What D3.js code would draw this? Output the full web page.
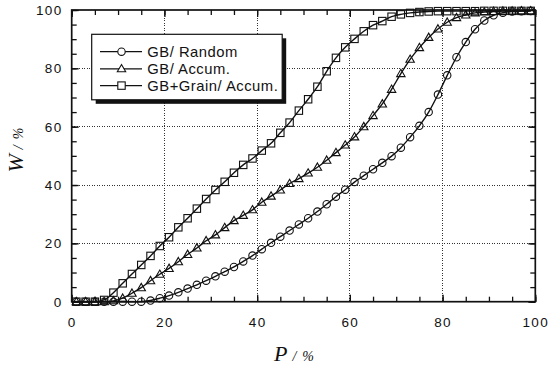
<!DOCTYPE html>
<html>
<head>
<meta charset="utf-8">
<script src="https://cdn.jsdelivr.net/npm/d3@7"></script>
<style>
  html, body { margin: 0; padding: 0; background: #fff; }
  svg { display: block; }
</style>
</head>
<body>
<svg id="chart" width="551" height="367"></svg>
<script>
// ---- data ----
const P = [1,3,5,7,9,11,13,15,17,19,21,23,25,27,29,31,33,35,37,39,41,43,45,47,49,
           51,53,55,57,59,61,63,65,67,69,71,73,75,77,79,81,83,85,87,89,91,93,95,97,99];
const gbRandom = [0,0,0,0,0,0,0,0,0.4,1.2,2.1,3.2,4.5,5.8,7.2,8.7,10.3,11.9,13.8,15.8,
                  18.0,20.2,22.3,24.4,26.5,28.6,30.9,33.4,36.0,38.4,41.0,43.2,45.4,47.6,49.9,
                  52.8,56.4,60.3,65.0,71.0,77.6,83.8,89.0,93.4,96.4,98.2,99.1,99.5,99.6,99.7];
const gbAccum = [0,0,0,0,0.3,1.2,2.9,4.8,7.2,9.4,11.4,13.7,16.2,18.4,20.9,22.9,25.4,27.8,29.6,31.5,
                 34.1,36.2,38.3,40.5,42.2,44.1,46.1,48.5,51.1,53.7,56.5,60.0,63.8,67.8,72.8,
                 78.2,83.1,87.1,90.6,93.5,95.8,97.4,98.3,99.0,99.3,99.5,99.6,99.6,99.7,99.7];
const gbGrainAccum = [0,0,0,0.6,3.1,6.3,9.5,12.6,15.7,19.1,22.1,25.5,28.6,31.9,35.2,38.3,41.1,44.2,46.9,49.1,
                      51.8,54.3,57.9,61.4,65.5,69.4,73.7,79.0,83.6,87.2,90.1,92.7,94.8,96.2,97.7,
                      98.5,99.0,99.3,99.5,99.6,99.6,99.6,99.6,99.6,99.7,99.7,99.7,99.7,99.7,99.7];
const seriesNames = ["GB/ Random", "GB/ Accum.", "GB+Grain/ Accum."];
const seriesMarkers = ["circle", "triangle", "square"];
const xTicks = [0,20,40,60,80,100];
const yTicks = [0,20,40,60,80,100];
const minorTicks = [0,5,10,15,20,25,30,35,40,45,50,55,60,65,70,75,80,85,90,95,100];
const gridVals = [20,40,60,80];

const series = [
  {name: seriesNames[0], marker: seriesMarkers[0], values: gbRandom},
  {name: seriesNames[1], marker: seriesMarkers[1], values: gbAccum},
  {name: seriesNames[2], marker: seriesMarkers[2], values: gbGrainAccum}
];

// ---- layout ----
const L = 71.7, R = 535.3, T = 10, B = 301.7;
const x = d3.scaleLinear().domain([0,100]).range([L,R]);
const y = d3.scaleLinear().domain([0,100]).range([B,T]);
const svg = d3.select("#chart");
const INK = "#111";

// grid
const grid = svg.append("g").attr("stroke", "#333").attr("stroke-width", 1)
  .attr("stroke-dasharray", "1,1.5").attr("shape-rendering", "crispEdges");
grid.selectAll("line.v").data(gridVals).join("line")
  .attr("x1", d => x(d)).attr("x2", d => x(d)).attr("y1", T).attr("y2", B);
grid.selectAll("line.h").data(gridVals).join("line")
  .attr("y1", d => y(d)).attr("y2", d => y(d)).attr("x1", L).attr("x2", R);

// axes
const fontTick = "'Liberation Sans', Arial, Helvetica, sans-serif";
function styleAxis(g) {
  g.select(".domain").remove();
  g.selectAll(".tick line").attr("stroke", INK).attr("stroke-width", 1.3);
  g.selectAll("text").attr("font-family", fontTick).attr("font-size", 13.5)
    .attr("letter-spacing", "1.4px").attr("fill", INK);
}
svg.append("g").attr("transform", `translate(0,${B})`)
  .call(d3.axisBottom(x).tickValues(xTicks).tickSize(-7).tickPadding(16).tickFormat(d3.format("d")))
  .call(styleAxis);
svg.append("g").attr("transform", `translate(${L},0)`)
  .call(d3.axisLeft(y).tickValues(yTicks).tickSize(-7).tickPadding(9).tickFormat(d3.format("d")))
  .call(styleAxis);
svg.append("g").attr("transform", `translate(0,${B})`)
  .call(d3.axisBottom(x).tickValues(minorTicks).tickSize(-5).tickFormat(""))
  .call(styleAxis);
svg.append("g").attr("transform", `translate(0,${T})`)
  .call(d3.axisTop(x).tickValues(minorTicks).tickSize(-5).tickFormat(""))
  .call(styleAxis);
svg.append("g").attr("transform", `translate(0,${T})`)
  .call(d3.axisTop(x).tickValues(xTicks).tickSize(-7).tickFormat(""))
  .call(styleAxis);
svg.append("g").attr("transform", `translate(${L},0)`)
  .call(d3.axisLeft(y).tickValues(minorTicks).tickSize(-5).tickFormat(""))
  .call(styleAxis);
svg.append("g").attr("transform", `translate(${R},0)`)
  .call(d3.axisRight(y).tickValues(minorTicks).tickSize(-5).tickFormat(""))
  .call(styleAxis);
svg.append("g").attr("transform", `translate(${R},0)`)
  .call(d3.axisRight(y).tickValues(yTicks).tickSize(-7).tickFormat(""))
  .call(styleAxis);

// frame
svg.append("rect").attr("x", L).attr("y", T).attr("width", R-L).attr("height", B-T)
  .attr("fill", "none").attr("stroke", INK).attr("stroke-width", 1.7);

// markers
function drawMarker(sel, type) {
  if (type === "circle") {
    sel.append("circle").attr("r", 3.7);
  } else if (type === "square") {
    sel.append("rect").attr("x", -3.7).attr("y", -3.7).attr("width", 7.4).attr("height", 7.4);
  } else {
    sel.append("path").attr("d", "M0,-4.3L4.2,3L-4.2,3Z");
  }
}

// lines + points
const lineGen = d3.line().x(d => x(d[0])).y(d => y(d[1])).curve(d3.curveMonotoneX);
series.forEach(s => {
  const pts = P.map((p,i) => [p, s.values[i]]);
  svg.append("path").datum(pts).attr("d", lineGen)
    .attr("fill", "none").attr("stroke", INK).attr("stroke-width", 1.4);
  const g = svg.append("g").attr("fill", "none").attr("stroke", INK).attr("stroke-width", 1.1);
  pts.forEach(pt => {
    const m = g.append("g").attr("transform", `translate(${x(pt[0])},${y(pt[1])})`);
    drawMarker(m, s.marker);
  });
});

// legend
const lg = svg.append("g");
const lx = 91.7, ly = 34.3, lw = 190.5, lh = 65.5;
lg.append("rect").attr("x", lx+4).attr("y", ly+4).attr("width", lw).attr("height", lh).attr("fill", INK);
lg.append("rect").attr("x", lx).attr("y", ly).attr("width", lw).attr("height", lh)
  .attr("fill", "#fff").attr("stroke", INK).attr("stroke-width", 1.2);
const rowY = [51.7, 68.8, 85.6];
series.forEach((s, i) => {
  const ry = rowY[i];
  lg.append("line").attr("x1", 100).attr("x2", 142).attr("y1", ry).attr("y2", ry)
    .attr("stroke", INK).attr("stroke-width", 1.3);
  const m = lg.append("g").attr("transform", `translate(121.5,${ry})`)
    .attr("fill", "#fff").attr("stroke", INK).attr("stroke-width", 1.1);
  drawMarker(m, s.marker);
  lg.append("text").attr("x", 147.3).attr("y", ry).attr("dy", "0.36em")
    .attr("font-family", fontTick).attr("font-size", 14.8).attr("letter-spacing", "0.5px")
    .attr("fill", INK).text(s.name);
});

// axis titles
const serif = "'Liberation Serif', 'Times New Roman', Times, serif";
const xt = svg.append("text").attr("x", 294).attr("y", 361).attr("text-anchor", "middle")
  .attr("font-family", serif).attr("font-style", "italic").attr("fill", INK);
xt.append("tspan").attr("font-size", 22).text("P");
xt.append("tspan").attr("font-size", 14).attr("dx", 5).text("/");
xt.append("tspan").attr("font-size", 14).attr("dx", 6).text("%");

const yt = svg.append("text").attr("transform", "translate(23,150) rotate(-90)")
  .attr("text-anchor", "middle")
  .attr("font-family", serif).attr("font-style", "italic").attr("fill", INK);
yt.append("tspan").attr("font-size", 22).text("W");
yt.append("tspan").attr("font-size", 14).attr("dx", 5).text("/");
yt.append("tspan").attr("font-size", 14).attr("dx", 6).text("%");
</script>
</body>
</html>
